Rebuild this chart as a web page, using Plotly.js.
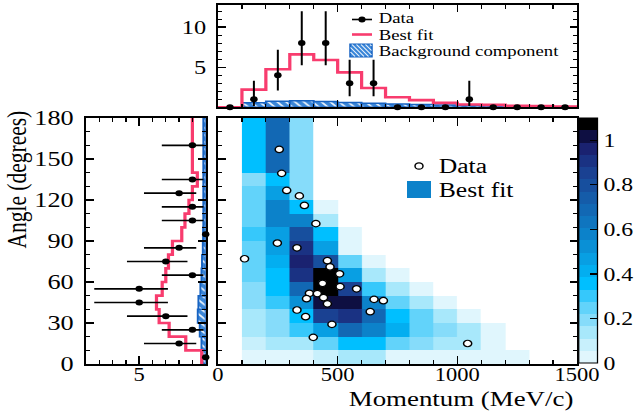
<!DOCTYPE html>
<html>
<head>
<meta charset="utf-8">
<script src="https://cdn.plot.ly/plotly-3.0.1.min.js"></script>
<style>
  html, body { margin: 0; padding: 0; background: #ffffff; overflow: hidden; }
  #wrap { width: 635px; height: 419px; overflow: hidden; position: relative; }
  /* the figure is laid out narrower and widened, giving the broad serif lettering */
  #chart { width: 508px; height: 419px; transform: scaleX(1.25); transform-origin: 0 0; }
</style>
</head>
<body>
<div id="wrap"><div id="chart"></div></div>
<script>
// ---------- momentum projection (100 MeV/c bins) ----------
const momentumEdges   = [0, 100, 200, 300, 400, 500, 600, 700, 800, 900, 1000, 1100, 1200, 1300, 1400, 1500];
const momentumCenters = [50, 150, 250, 350, 450, 550, 650, 750, 850, 950, 1050, 1150, 1250, 1350, 1450];
const momentumCounts  = [0, 1, 4, 8, 8, 3, 3, 0, 0, 0, 1, 0, 0, 0, 0];
const momentumErrUp   = [0, 2.30, 3.16, 3.97, 3.97, 2.92, 2.92, 0, 0, 0, 2.30, 0, 0, 0, 0];
const momentumErrDown = [0, 0.83, 1.91, 2.76, 2.76, 1.63, 1.63, 0, 0, 0, 0.83, 0, 0, 0, 0];
const momentumFit     = [0, 2.2, 4.75, 6.6, 5.9, 4.35, 2.4, 1.25, 0.9, 0.55, 0.35, 0.3, 0.2, 0.15, 0.1];
const momentumBkg     = [0, 0.58, 0.75, 0.83, 0.72, 0.6, 0.5, 0.42, 0.35, 0.3, 0.27, 0.22, 0.18, 0.12, 0.08];

// ---------- angle projection (10 degree bins, last bin 140-180) ----------
const angleEdges     = [0, 10, 20, 30, 40, 50, 60, 70, 80, 90, 100, 110, 120, 130, 140, 180];
const angleCenters   = [5, 15, 25, 35, 45, 55, 65, 75, 85, 95, 105, 115, 125, 135, 160];
const angleWidths    = [10, 10, 10, 10, 10, 10, 10, 10, 10, 10, 10, 10, 10, 10, 40];
const angleCounts    = [0, 2, 1, 3, 5, 5, 1, 3, 2, 0, 1, 1, 2, 1, 1];
const angleErrUp     = [0, 2.64, 2.30, 2.92, 3.38, 3.38, 2.30, 2.92, 2.64, 0, 2.30, 2.30, 2.64, 2.30, 2.30];
const angleErrDown   = [0, 1.29, 0.83, 1.63, 2.16, 2.16, 0.83, 1.63, 1.29, 0, 0.83, 0.83, 1.29, 0.83, 0.83];
const angleFit       = [0.3, 1.5, 2.75, 3.5, 3.7, 3.27, 3.0, 2.8, 2.5, 1.8, 1.56, 1.26, 1.0, 0.63, 1.0];
const angleBkg       = [0.25, 0.32, 0.45, 0.6, 0.55, 0.4, 0.32, 0.28, 0.22, 0.2, 0.18, 0.18, 0.18, 0.18, 0.18];

// ---------- two-dimensional best fit (momentum 100-1300, angle bins above) ----------
const fitMomentumEdges = [100, 200, 300, 400, 500, 600, 700, 800, 900, 1000, 1100, 1200, 1300];
const _ = null;
const fitDensity = [
  [0.03, 0.03, 0.03, 0.08, 0.14, 0.14, 0.03, 0.03, 0.03, 0.03, 0.03, 0.03],  //   0-10
  [0.08, 0.14, 0.14, 0.25, 0.36, 0.36, 0.25, 0.19, 0.14, 0.14, 0.03, _],     //  10-20
  [0.14, 0.19, 0.30, 0.47, 0.69, 0.58, 0.41, 0.25, 0.19, 0.14, 0.03, _],     //  20-30
  [0.14, 0.19, 0.36, 0.85, 0.91, 0.66, 0.36, 0.25, 0.14, 0.03, _, _],        //  30-40
  [0.19, 0.30, 0.52, 1.02, 1.00, 0.58, 0.25, 0.14, 0.03, _, _, _],           //  40-50
  [0.19, 0.36, 0.69, 1.08, 0.85, 0.30, 0.14, 0.03, _, _, _, _],              //  50-60
  [0.25, 0.36, 0.91, 1.07, 0.47, 0.14, 0.03, _, _, _, _, _],                 //  60-70
  [0.25, 0.41, 0.96, 0.80, 0.25, 0.03, _, _, _, _, _, _],                    //  70-80
  [0.25, 0.47, 0.91, 0.47, 0.03, _, _, _, _, _, _, _],                       //  80-90
  [0.30, 0.47, 0.80, 0.36, 0.03, _, _, _, _, _, _, _],                       //  90-100
  [0.25, 0.58, 0.58, 0.14, _, _, _, _, _, _, _, _],                          // 100-110
  [0.25, 0.55, 0.36, 0.03, _, _, _, _, _, _, _, _],                          // 110-120
  [0.25, 0.47, 0.19, _, _, _, _, _, _, _, _, _],                             // 120-130
  [0.19, 0.36, 0.19, _, _, _, _, _, _, _, _, _],                             // 130-140
  [0.36, 0.66, 0.19, _, _, _, _, _, _, _, _, _]                              // 140-180
];
const colorbarTicks = [0, 0.2, 0.4, 0.6, 0.8, 1];

// ---------- observed events ----------
const eventMomentum = [256, 266, 287, 340, 361, 409, 248, 330, 111, 457, 468, 508, 437, 510,
                       579, 382, 415, 370, 441, 457, 652, 691, 330, 636, 366, 476, 398, 1043];
const eventAngle    = [157, 139.5, 127, 123, 116, 102.7, 88.5, 85, 77, 75.6, 71, 66, 59, 56.6,
                       55, 51.7, 51.5, 47.8, 48.5, 44, 47.3, 46.3, 39.5, 38.3, 34.6, 29, 19.5, 15];

// ---------- styling ----------
const SERIF = 'Liberation Serif, Times New Roman, serif';
const FIT_RED = '#f83c6e';
const BKG_BLUE = '#3a86d8';
const BKG_EDGE = '#1763c2';
const bandColors = ['#e0f6fd', '#c8f0fc', '#a8e8fb', '#86dcfa', '#62d3fa', '#36c8fb', '#00bfff',
                    '#03aef0', '#089fe3', '#0a90d6', '#0c82ca', '#0f75bf', '#1268b4', '#155ca9',
                    '#174f9e', '#1a4192', '#1a3283', '#1a2270', '#0e0f42', '#000000'];
const Z_MAX = 1.1;
const stepScale = [];
bandColors.forEach((c, i) => {
  stepScale.push([i / bandColors.length, c]);
  stepScale.push([(i + 1) / bandColors.length, c]);
});

// canvas pixel -> paper fraction helpers
const W = 635, H = 419;
const px = v => v / W;
const py = v => 1 - v / H;

const hatch = {shape: '\\', fgcolor: 'rgba(255,255,255,0.9)', bgcolor: BKG_BLUE, size: 5, solidity: 0.32};

const traces = [
  // main panel
  {
    type: 'heatmap', x: fitMomentumEdges, y: angleEdges, z: fitDensity,
    zmin: 0, zmax: Z_MAX, colorscale: stepScale, hoverongaps: false, hoverinfo: 'skip',
    xaxis: 'x', yaxis: 'y',
    colorbar: {
      x: px(579), xanchor: 'left', xref: 'paper', xpad: 0,
      y: py(240.5), yanchor: 'middle', ypad: 0,
      len: 245, lenmode: 'pixels', thickness: 15.2,
      outlinewidth: 1, outlinecolor: 'black',
      tickvals: colorbarTicks, ticks: 'inside', ticklen: 6, tickcolor: 'black', tickwidth: 1.2,
      tickfont: {family: SERIF, size: 19, color: 'black'}
    }
  },
  {
    type: 'scatter', mode: 'markers', x: eventMomentum, y: eventAngle, xaxis: 'x', yaxis: 'y',
    marker: {symbol: 'circle', size: 6.5, color: 'white', line: {color: 'black', width: 1.2}},
    cliponaxis: false, hoverinfo: 'skip'
  },
  // momentum projection
  {
    type: 'bar', x: momentumCenters, y: momentumBkg, width: 100, xaxis: 'x2', yaxis: 'y2',
    marker: {color: BKG_BLUE, line: {color: BKG_EDGE, width: 1.5}, pattern: hatch},
    hoverinfo: 'skip'
  },
  {
    type: 'scatter', mode: 'lines', x: momentumEdges, y: momentumFit.concat([momentumFit[momentumFit.length - 1]]),
    line: {shape: 'hv', color: FIT_RED, width: 2.6}, xaxis: 'x2', yaxis: 'y2', hoverinfo: 'skip'
  },
  {
    type: 'scatter', mode: 'markers', x: momentumCenters, y: momentumCounts, xaxis: 'x2', yaxis: 'y2',
    marker: {color: 'black', size: 6},
    error_y: {type: 'data', symmetric: false, array: momentumErrUp, arrayminus: momentumErrDown,
              width: 0, thickness: 1.6, color: 'black'},
    cliponaxis: false, hoverinfo: 'skip'
  },
  // angle projection
  {
    type: 'bar', orientation: 'h', y: angleCenters, x: angleBkg, width: angleWidths, xaxis: 'x3', yaxis: 'y3',
    marker: {color: BKG_BLUE, line: {color: BKG_EDGE, width: 1.5}, pattern: hatch},
    hoverinfo: 'skip'
  },
  {
    type: 'scatter', mode: 'lines', y: angleEdges, x: angleFit.concat([angleFit[angleFit.length - 1]]),
    line: {shape: 'vh', color: FIT_RED, width: 2.6}, xaxis: 'x3', yaxis: 'y3', hoverinfo: 'skip'
  },
  {
    type: 'scatter', mode: 'markers', y: angleCenters, x: angleCounts, xaxis: 'x3', yaxis: 'y3',
    marker: {color: 'black', size: 6},
    error_x: {type: 'data', symmetric: false, array: angleErrUp, arrayminus: angleErrDown,
              width: 0, thickness: 1.6, color: 'black'},
    cliponaxis: false, hoverinfo: 'skip'
  }
];

function frame(extra) {
  return Object.assign({
    showline: true, linecolor: 'black', linewidth: 1.6, mirror: 'ticks',
    ticks: 'inside', tickcolor: 'black', tickwidth: 1.2,
    showgrid: false, zeroline: false, fixedrange: true, automargin: false,
    tickfont: {family: SERIF, size: 18, color: 'black'}
  }, extra);
}

const mainX = [px(218), px(577)];
const mainY = [py(364), py(118)];

// legend swatch with diagonal hatching, in canvas pixels
function hatchPath(x0, x1, y0, y1, step) {
  const h = y1 - y0;
  let d = '';
  for (let s = x0 - h; s < x1; s += step) {
    const a = Math.max(x0, s), b = Math.min(x1, s + h);
    if (b <= a) continue;
    d += 'M' + px(a) + ',' + py(y0 + (a - s)) + 'L' + px(b) + ',' + py(y0 + (b - s));
  }
  return d;
}

const shapes = [
  // momentum legend
  {type: 'line', xref: 'paper', yref: 'paper', x0: px(352), x1: px(372), y0: py(19.5), y1: py(19.5),
   line: {color: 'black', width: 1.6}},
  {type: 'circle', xref: 'paper', yref: 'paper', x0: px(358.4), x1: px(365.6), y0: py(22.4), y1: py(16.6),
   fillcolor: 'black', line: {color: 'black', width: 0}},
  {type: 'line', xref: 'paper', yref: 'paper', x0: px(352), x1: px(372), y0: py(34.5), y1: py(34.5),
   line: {color: FIT_RED, width: 2.6}},
  {type: 'rect', xref: 'paper', yref: 'paper', x0: px(350), x1: px(372), y0: py(57), y1: py(44),
   fillcolor: BKG_BLUE, line: {color: BKG_EDGE, width: 1.2}},
  {type: 'path', xref: 'paper', yref: 'paper', path: hatchPath(350.5, 371.5, 44.5, 56.5, 4.5),
   line: {color: 'rgba(255,255,255,0.9)', width: 1}},
  // main legend
  {type: 'circle', xref: 'paper', yref: 'paper', x0: px(415), x1: px(423), y0: py(169.2), y1: py(162.8),
   fillcolor: 'white', line: {color: 'black', width: 1.2}},
  {type: 'rect', xref: 'paper', yref: 'paper', x0: px(407), x1: px(431), y0: py(198), y1: py(181),
   fillcolor: bandColors[10], line: {color: bandColors[10], width: 0}}
];

function label(text, x, y, size, extra) {
  return Object.assign({
    text: text, xref: 'paper', yref: 'paper', x: px(x), y: py(y), showarrow: false, borderpad: 0,
    xanchor: 'left', yanchor: 'middle', font: {family: SERIF, size: size, color: 'black'}
  }, extra || {});
}

const annotations = [
  label('Data', 377, 18.5, 15),
  label('Best fit', 377, 35, 15),
  label('Background component', 377, 51, 15),
  label('Data', 437, 166, 20.5),
  label('Best fit', 437, 190, 20.5),
  label('Momentum (MeV/c)', 575, 399, 21.5, {xanchor: 'right'}),
  label('Angle (degrees)', 17, 110, 21.5, {xanchor: 'center', yanchor: 'top', textangle: -90})
];

const layout = {
  width: 508, height: 419,
  margin: {l: 0, r: 0, t: 0, b: 0, autoexpand: false},
  paper_bgcolor: 'white', plot_bgcolor: 'white',
  showlegend: false, bargap: 0,
  font: {family: SERIF, color: 'black'},
  xaxis: frame({domain: mainX, anchor: 'y', range: [0, 1500], tick0: 0, dtick: 500, ticklen: 8,
                ticklabelstandoff: -6,
                minor: {dtick: 100, ticks: 'inside', ticklen: 4, tickcolor: 'black', tickwidth: 1}}),
  yaxis: frame({domain: mainY, anchor: 'x', range: [0, 180], tick0: 0, dtick: 30, ticklen: 6,
                showticklabels: false,
                minor: {dtick: 10, ticks: 'inside', ticklen: 3, tickcolor: 'black', tickwidth: 1}}),
  xaxis2: frame({domain: mainX, anchor: 'y2', range: [0, 1500], tick0: 0, dtick: 500, ticklen: 7,
                 showticklabels: false,
                 minor: {dtick: 100, ticks: 'inside', ticklen: 3.5, tickcolor: 'black', tickwidth: 1}}),
  yaxis2: frame({domain: [py(107.3), py(5)], anchor: 'x2', range: [0, 12.75], tickvals: [5, 10], ticklen: 6,
                 ticklabelstandoff: 4, tickfont: {family: SERIF, size: 19.5, color: 'black'},
                 minor: {dtick: 1, ticks: 'inside', ticklen: 3, tickcolor: 'black', tickwidth: 1}}),
  xaxis3: frame({domain: [px(86), px(205.7)], anchor: 'y3', range: [9, 0], tickvals: [5], ticklen: 8,
                 ticklabelstandoff: -6,
                 minor: {dtick: 1, ticks: 'inside', ticklen: 4, tickcolor: 'black', tickwidth: 1}}),
  yaxis3: frame({domain: mainY, anchor: 'x3', range: [0, 180], tick0: 0, dtick: 30, ticklen: 6,
                 ticklabelstandoff: 4, tickfont: {family: SERIF, size: 21, color: 'black'},
                 minor: {dtick: 10, ticks: 'inside', ticklen: 3, tickcolor: 'black', tickwidth: 1}}),
  shapes: shapes,
  annotations: annotations
};

Plotly.newPlot('chart', traces, layout, {staticPlot: true, displayModeBar: false});
</script>
</body>
</html>
